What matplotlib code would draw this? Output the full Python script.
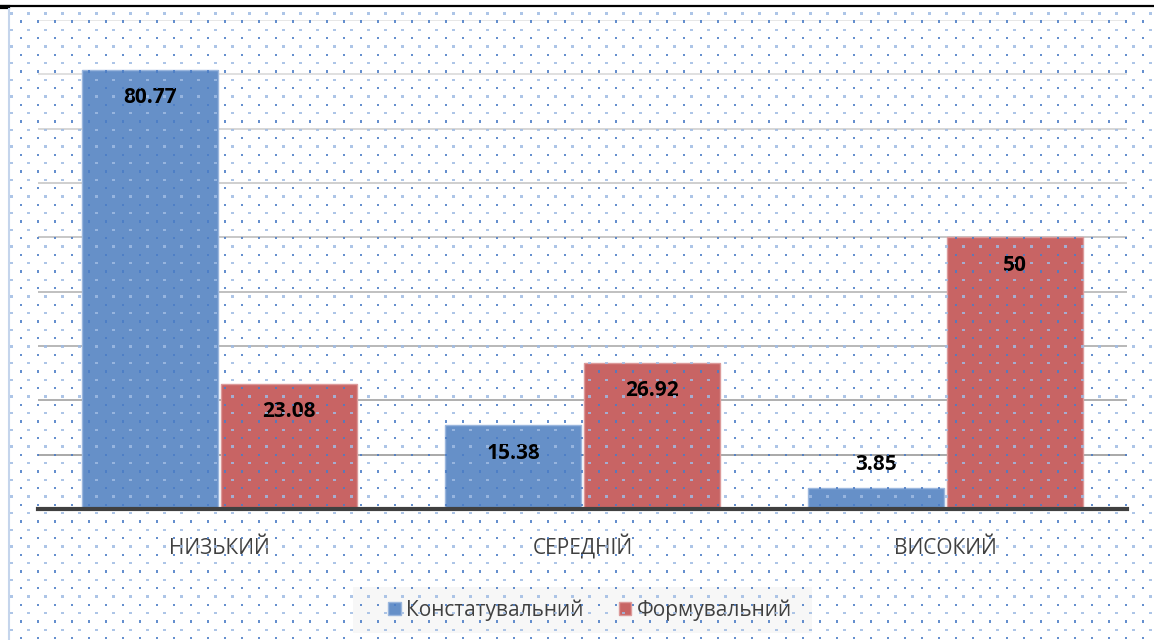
import numpy as np
import matplotlib.pyplot as plt
from matplotlib.lines import Line2D
from matplotlib.patches import Rectangle

plt.rcParams['font.family'] = ['Open Sans', 'DejaVu Sans']

categories = ['НИЗЬКИЙ', 'СЕРЕДНІЙ', 'ВИСОКИЙ']
series_names = ['Констатувальний', 'Формувальний']
konst = [80.77, 15.38, 3.85]
form = [23.08, 26.92, 50]

blue = '#6690c8'
red = '#c86464'

W, H = 1154, 640
fig = plt.figure(figsize=(W / 100, H / 100), dpi=100)
fig.patch.set_facecolor('white')

ax = fig.add_axes([38 / W, 131 / H, 1089 / W, 489 / H])
x = np.arange(len(categories))
bw = 0.375
b1 = ax.bar(x - bw / 2 - 0.003, konst, bw, color=blue, edgecolor='#9ab6dd', linewidth=1,
            label=series_names[0], zorder=3)
b2 = ax.bar(x + bw / 2 + 0.003, form, bw, color=red, edgecolor='#dc9a9a', linewidth=1,
            label=series_names[1], zorder=3)

ax.set_xlim(-0.5, 2.5)
ax.set_ylim(0, 90)
# gridlines fade lighter toward the top, as in the source picture
for g in range(10, 91, 10):
    shade = 0.60 + 0.29 * (g - 10) / 80
    ax.axhline(g, color=(shade, shade, shade), linewidth=1.2, zorder=1)
ax.tick_params(left=False, labelleft=False, bottom=False)
ax.set_yticks([])
ax.set_xticks(x)
ax.set_xticklabels(categories, fontsize=15, color='#404040')
for lab in ax.get_xticklabels():
    lab.set_verticalalignment('baseline')
ax.tick_params(axis='x', pad=29)
for s in ['top', 'right', 'left']:
    ax.spines[s].set_visible(False)
ax.spines['bottom'].set_color('#404040')
ax.spines['bottom'].set_linewidth(3)
ax.spines['bottom'].set_zorder(4)
ax.patch.set_alpha(0)

for bars in (b1, b2):
    for rect in bars:
        v = rect.get_height()
        cx = rect.get_x() + rect.get_width() / 2
        label = f'{v:g}'
        dy = 17 if v < 8 else -20
        ax.annotate(label, (cx, v), xytext=(0, dy), textcoords='offset points',
                    ha='center', va='center', fontsize=15, fontweight='bold', zorder=5)

# legend background box
fig.add_artist(Rectangle((353 / W, 1 - 633 / H), 459 / W, 46 / H,
                         transform=fig.transFigure, facecolor='#f7f7f7',
                         edgecolor='none', zorder=1))
leg = fig.legend(loc='center', bbox_to_anchor=(590 / W, 1 - 610 / H), ncol=2,
                 fontsize=15, frameon=False, handlelength=0.6, handleheight=0.6,
                 handletextpad=0.25, columnspacing=1.7)
leg.set_zorder(2)
for t in leg.get_texts():
    t.set_color('#404040')

# page decorations: top rule and left edge line
fig.add_artist(Line2D([0, 1], [1 - 6 / H, 1 - 6 / H], color='black', linewidth=1.6))
fig.add_artist(Line2D([0, 8 / W], [1 - 7 / H, 1 - 7 / H], color='black', linewidth=3))
fig.add_artist(Line2D([8.5 / W, 8.5 / W], [0, 1 - 9 / H], color='#c5d5ec', linewidth=1.5))

# dotted background pattern over everything
ov = fig.add_axes([0, 0, 1, 1], zorder=10)
ov.set_xlim(0, W)
ov.set_ylim(H, 0)
ov.axis('off')
ov.patch.set_alpha(0)
rows_y = np.arange(13.3, H, 8.33)
px, py, pc = [], [], []
for i, yy in enumerate(rows_y):
    if i % 2 == 0:
        xs = np.arange(11.7, W, 17.0)
        col = '#9fbbe3'
    else:
        xs = np.arange(21.0, W, 17.0)
        col = '#4a7cc6'
    px.extend(xs)
    py.extend([yy] * len(xs))
    pc.extend([col] * len(xs))
ov.scatter(px, py, s=3.0, c=pc, marker='s', linewidths=0, alpha=0.85)

fig.savefig('out.png', dpi=100)
